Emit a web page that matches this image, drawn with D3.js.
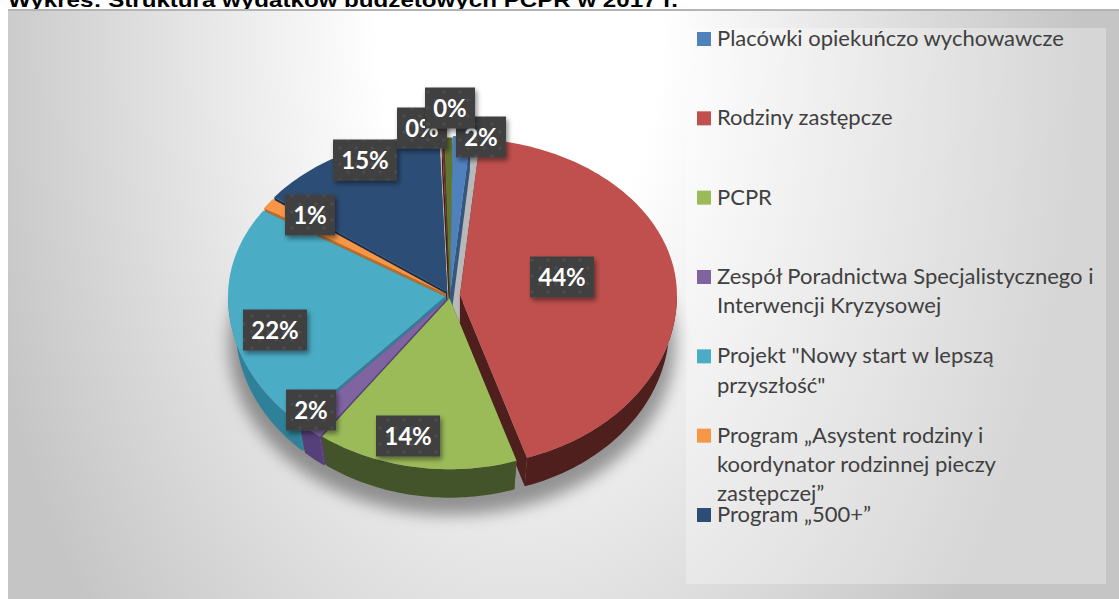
<!DOCTYPE html>
<html lang="pl"><head><meta charset="utf-8">
<script src="https://cdn.jsdelivr.net/npm/d3@7"></script>
<style>html,body{margin:0;padding:0;background:#fff;overflow:hidden}svg{display:block}</style>
</head><body><svg id="c" width="1119" height="599"></svg>
<script>
const titleText = "Wykres:  Struktura wydatków budżetowych PCPR w 2017 r.";
const categories = ["Placówki opiekuńczo wychowawcze","Rodziny zastępcze","PCPR","Zespół Poradnictwa Specjalistycznego i Interwencji Kryzysowej","Projekt \"Nowy start w lepszą przyszłość\"","Program „Asystent rodziny i koordynator rodzinnej pieczy zastępczej”","Program „500+”","Pozostałe A","Pozostałe B"];
const legendLines = [["Placówki opiekuńczo wychowawcze"],["Rodziny zastępcze"],["PCPR"],["Zespół Poradnictwa Specjalistycznego i","Interwencji Kryzysowej"],["Projekt \"Nowy start w lepszą","przyszłość\""],["Program „Asystent rodziny i","koordynator rodzinnej pieczy","zastępczej”"],["Program „500+”"]];
const values = [1.3,43.5,15.0,1.9,22.3,1.1,14.1,0.2,0.6];
const labels = ["2%","44%","14%","2%","22%","1%","15%","0%","0%"];
const topColors = ["#4f81bd","#c0504d","#9bbb59","#8064a2","#4bacc6","#f79646","#2c4d75","#772c2a","#5f7530"];
const wallColors = ["#34567f","#4f1f1e","#44542a","#55407a","#2f8199","#b86d2a","#1a2f4d","#4a1a18","#3c4a1e"];
// layout
const explode = [4,10,3,4,5,5,6,2,2];
const drawOrder = [6,7,8,0,1,5,4,3,2];
const labelCenters = [[481,137],[562,277],[408,436],[311,410],[275,330],[310,215],[365,160],[422,128],[450,108]];
const C = {x:450,y:296,rx:217,ryTop:157,ryBot:171,depth:31,taper:0.965};

const svg = d3.select("#c");
const defs = svg.append("defs");
const bg = defs.append("radialGradient").attr("id","bg").attr("gradientUnits","userSpaceOnUse")
  .attr("cx",0).attr("cy",0).attr("r",1).attr("gradientTransform","translate(520,40) scale(560,900)");
[[0,"#ffffff"],[0.25,"#ffffff"],[0.55,"#e8e8e8"],[1,"#c5c5c5"]].forEach(s=>bg.append("stop").attr("offset",s[0]).attr("stop-color",s[1]));
defs.append("filter").attr("id","blur").attr("x","-30%").attr("y","-30%").attr("width","160%").attr("height","160%")
  .append("feGaussianBlur").attr("stdDeviation",8);
defs.append("filter").attr("id","ds").attr("x","-20%").attr("y","-20%").attr("width","150%").attr("height","150%")
  .append("feDropShadow").attr("dx",2).attr("dy",3).attr("stdDeviation",2.5).attr("flood-color","#000").attr("flood-opacity",0.45);
const pat = defs.append("pattern").attr("id","dots").attr("patternUnits","userSpaceOnUse").attr("width",16).attr("height",16);
pat.append("rect").attr("width",16).attr("height",16).attr("fill","#3f3f3f");
[[4,4],[12,12]].forEach(p=>pat.append("circle").attr("cx",p[0]).attr("cy",p[1]).attr("r",1.8).attr("fill","#4c4c4c"));

// title, cut by the panel
svg.append("text").attr("x",8).attr("y",7).attr("font-family","'Liberation Sans',Arial,sans-serif")
  .attr("font-weight",700).attr("font-size",20).attr("fill","#000").attr("textLength",670).attr("lengthAdjust","spacingAndGlyphs").text(titleText);

// panel
svg.append("rect").attr("x",8).attr("y",9).attr("width",1111).attr("height",590).attr("fill","url(#bg)");
svg.append("rect").attr("x",8).attr("y",9).attr("width",1111).attr("height",2).attr("fill","#b4b4b4");
svg.append("rect").attr("x",686).attr("y",28).attr("width",420).attr("height",556).attr("fill","#fff").attr("fill-opacity",0.3);

// pie shadow
svg.append("ellipse").attr("cx",C.x+2).attr("cy",C.y+48).attr("rx",C.rx+6).attr("ry",C.ryBot)
  .attr("fill","#000").attr("fill-opacity",0.38).attr("filter","url(#blur)");

const arcs = d3.pie().sort(null).value(d=>d).startAngle(2*Math.PI*0.002).endAngle(2*Math.PI*1.002)(values);
function offset(i){const a=(arcs[i].startAngle+arcs[i].endAngle)/2;
  return [Math.sin(a)*explode[i], -Math.cos(a)*explode[i]*0.75];}
function proj(th,i,low){
  const o=offset(i), c=Math.cos(th), ry=c>0?C.ryTop:C.ryBot, k=low?C.taper:1;
  return [C.x+o[0]+Math.sin(th)*C.rx*k, C.y+o[1]-c*ry*(low?0.985:1)+(low?C.depth:0)];
}
function apex(i,low){const o=offset(i);return [C.x+o[0],C.y+o[1]+(low?C.depth:0)];}
function arcPts(a,b,i,low){const n=Math.max(2,Math.ceil((b-a)/0.02));
  return d3.range(n+1).map(k=>proj(a+(b-a)*k/n,i,low));}
const line=d3.line().curve(d3.curveLinear);
const pieG=svg.append("g");
// grey seen through the gaps between the pulled-out slices
const under=d3.range(0,2*Math.PI,0.05).map(t=>{const c=Math.cos(t);
  return [C.x+Math.sin(t)*(C.rx-4), C.y-c*(c>0?C.ryTop-4:C.ryBot-4)];});
pieG.append("path").attr("d",line(under)+"Z").attr("fill","#b8b8b8");
drawOrder.forEach(i=>{
  const a=arcs[i].startAngle,b=arcs[i].endAngle,g=pieG.append("g");
  [a,b].forEach(t=>g.append("path").attr("d",line([apex(i),proj(t,i),proj(t,i,true),apex(i,true)])+"Z").attr("fill",wallColors[i]));
  const s=Math.max(a,Math.PI/2),e=Math.min(b,3*Math.PI/2);
  if(e>s){g.append("path").attr("d",line(arcPts(s,e,i).concat(arcPts(s,e,i,true).reverse()))+"Z").attr("fill",wallColors[i]);}
  g.append("path").attr("d",line([apex(i)].concat(arcPts(a,b,i)))+"Z").attr("fill",topColors[i]);
});

// data labels
const lab=svg.append("g");
labels.forEach((t,i)=>{
  const w=t.length>2?64:50,h=41,p=labelCenters[i];
  lab.append("rect").attr("x",p[0]-w/2).attr("y",p[1]-h/2).attr("width",w).attr("height",h).attr("fill","url(#dots)").attr("filter","url(#ds)");
  lab.append("text").attr("x",p[0]).attr("y",p[1]+8.5).attr("text-anchor","middle").attr("font-family","Lato,'Open Sans',sans-serif")
    .attr("font-weight",700).attr("font-size",24).attr("fill","#fff").text(t);
});

// legend
const ly=d3.scaleLinear().domain([0,6]).range([46,522]);
const leg=svg.append("g");
legendLines.forEach((ls,i)=>{
  leg.append("rect").attr("x",697).attr("y",ly(i)-14).attr("width",14).attr("height",14).attr("fill",topColors[i]);
  ls.forEach((t,j)=>leg.append("text").attr("x",717).attr("y",ly(i)+j*29.3).attr("font-family","Lato,'Open Sans',sans-serif")
    .attr("font-size",22).attr("fill","#404040").text(t));
});
</script></body></html>
